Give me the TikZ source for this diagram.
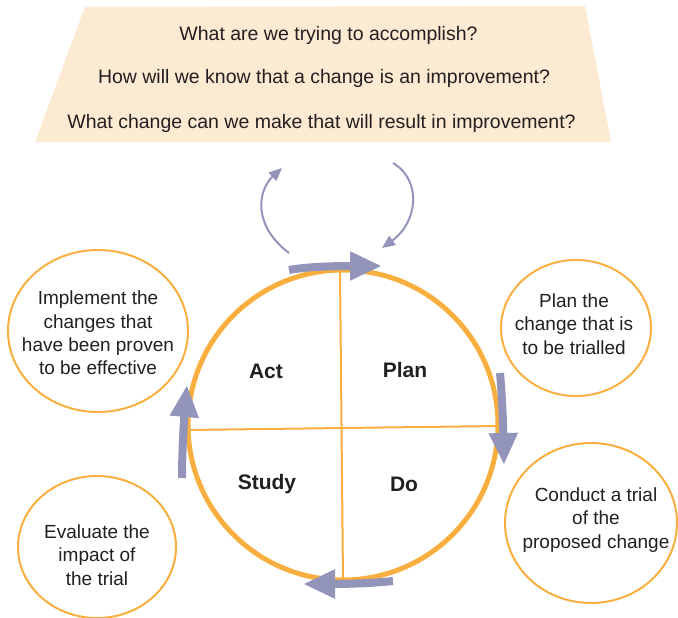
\documentclass[tikz,border=0pt]{standalone}
\usepackage{fontspec}
\setmainfont{Liberation Sans}
\usetikzlibrary{arrows.meta,shapes.geometric}
\definecolor{pdsaorange}{HTML}{F9AF3F}
\definecolor{pdsablue}{HTML}{9294BA}
\definecolor{pdsapeach}{HTML}{FDEAD3}
\definecolor{pdsatext}{HTML}{231F20}
\begin{document}
\begin{tikzpicture}[x=1pt,y=-1pt,
  bigarrow/.style={draw=pdsablue, fill=pdsablue, line width=8pt, -{Triangle[length=32pt,width=27pt]}},
  thinarrow/.style={draw=pdsablue, fill=none, line width=2pt, -{Triangle[length=13pt,width=11pt,fill=pdsablue]}},
  noteell/.style={ellipse, draw=pdsaorange, line width=2pt, inner sep=0pt},
  notetext/.style={align=center, text=pdsatext, inner sep=0pt, font=\fontsize{19}{23.3}\selectfont},
  quadlabel/.style={font=\fontsize{21}{25}\bfseries\selectfont, text=pdsatext},
  question/.style={font=\fontsize{19.5}{24}\selectfont, text=pdsatext},
  crossline/.style={draw=pdsaorange, line width=2pt}]
\useasboundingbox (0,0) rectangle (678,618);
% question banner
\fill[pdsapeach] (85,7) -- (585,6) -- (611,142) -- (35,142) -- cycle;
\node[question] (q1) at (328.5,35) {What are we trying to accomplish?};
\node[question] (q2) at (324,78) {How will we know that a change is an improvement?};
\node[question] (q3) at (321.5,123) {What change can we make that will result in improvement?};
% cycle
\node[circle, draw=pdsaorange, line width=5pt, minimum size=310pt, inner sep=0pt] (cyc) at (343,425) {};
\coordinate (vtop) at (340,270);
\coordinate (vbot) at (343,580);
\coordinate (hleft) at (187,430);
\coordinate (hright) at (500,426);
\draw[crossline] (vtop) -- (vbot);
\draw[crossline] (hleft) -- (hright);
\node[quadlabel] (act) at (266,371) {Act};
\node[quadlabel] (plan) at (405,370) {Plan};
\node[quadlabel] (study) at (267,484) {Study};
\node[quadlabel] (do) at (404,484) {Do};
% big cycle arrows
\coordinate (ta1) at (289,270); \coordinate (ta2) at (382,266);
\coordinate (ra1) at (500,373); \coordinate (ra2) at (504,465);
\coordinate (ba1) at (393,581); \coordinate (ba2) at (303,584);
\coordinate (la1) at (182,478); \coordinate (la2) at (187,385);
\draw[bigarrow] (ta1) .. controls (305,267) and (330,266) .. (ta2);
\draw[bigarrow] (ra1) .. controls (502,395) and (503,420) .. (ra2);
\draw[bigarrow] (ba1) .. controls (375,583) and (350,584) .. (ba2);
\draw[bigarrow] (la1) .. controls (182,450) and (184,420) .. (la2);
% thin arrows to and from the questions
\coordinate (sl1) at (289,253); \coordinate (sl2) at (282,168);
\coordinate (sr1) at (393,163); \coordinate (sr2) at (382,248);
\draw[thinarrow] (sl1) .. controls (252,225) and (258,190) .. (sl2);
\draw[thinarrow] (sr1) .. controls (422,180) and (418,222) .. (sr2);
% notes
\node[noteell, minimum width=180pt, minimum height=162pt] (e1) at (98,331) {};
\node[notetext] (t1) at (98,333) {Implement the\\changes that\\have been proven\\to be effective};
\node[noteell, minimum width=158pt, minimum height=142pt] (e2) at (97,547) {};
\node[notetext] (t2) at (97,555) {Evaluate the\\impact of\\the trial};
\node[noteell, minimum width=150pt, minimum height=136pt] (e3) at (576,328) {};
\node[notetext] (t3) at (574,324) {Plan the\\change that is\\to be trialled};
\node[noteell, minimum width=172pt, minimum height=160pt] (e4) at (591,523) {};
\node[notetext] (t4) at (596,520) {Conduct a trial\\of the\\proposed change};
\end{tikzpicture}
\end{document}
